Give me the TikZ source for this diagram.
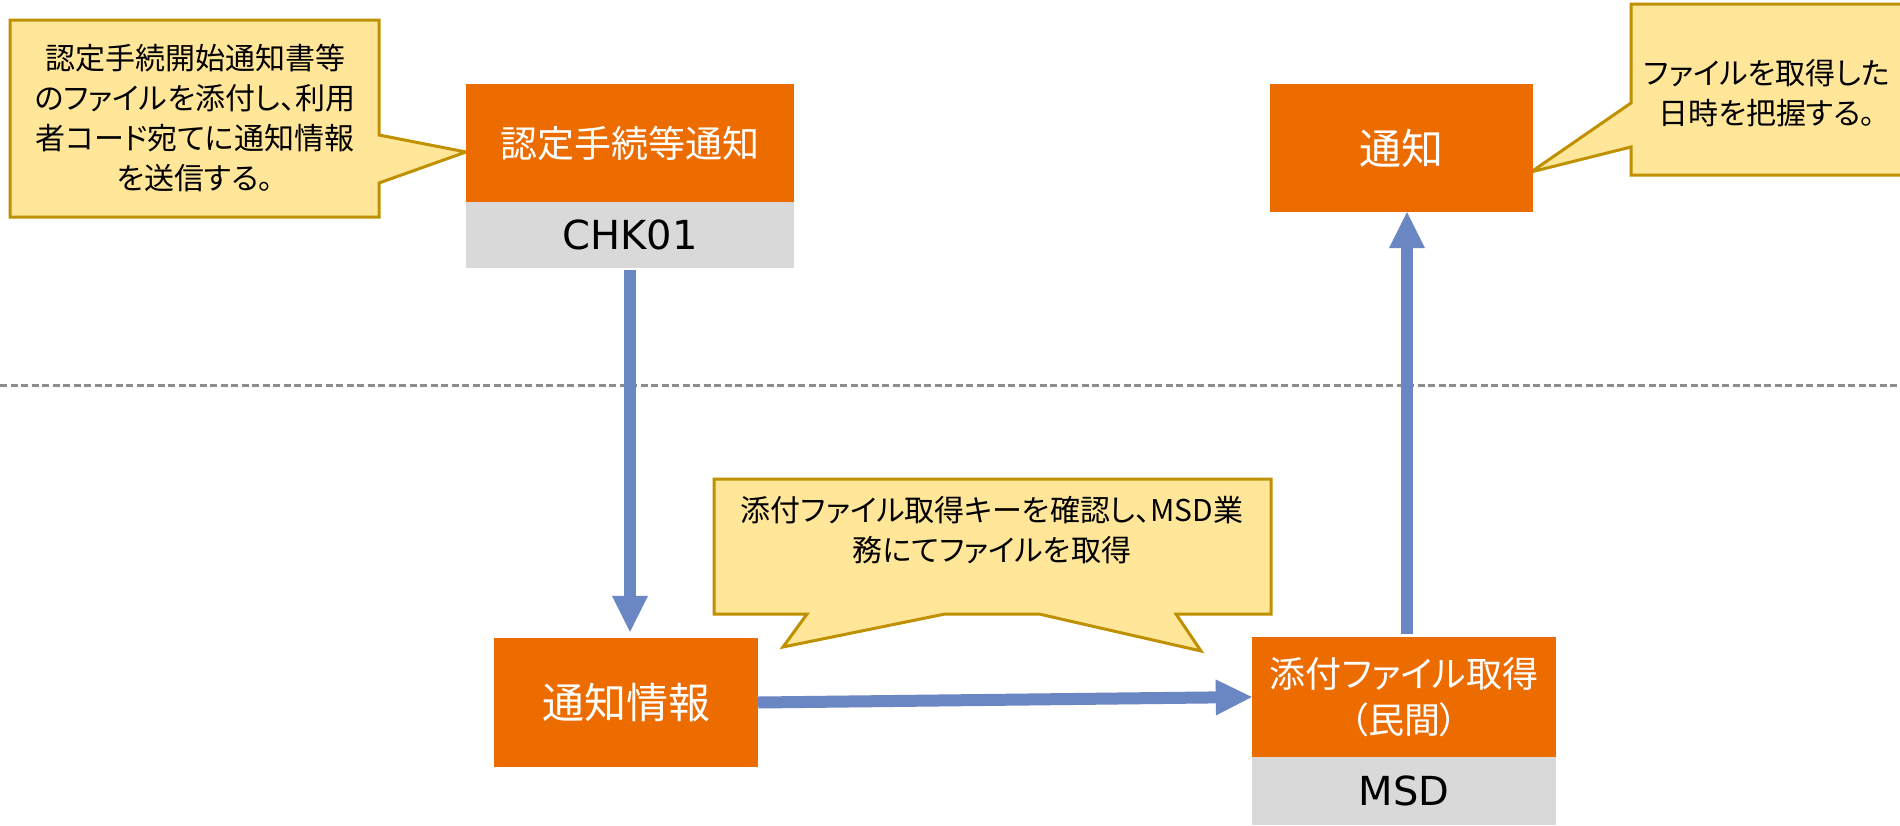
\documentclass[tikz,border=0pt]{standalone}
\usepackage{fontspec}
\newfontfamily\jp[RawFeature=+palt]{Noto Sans CJK JP}
\newfontfamily\lat{DejaVu Sans}
\usetikzlibrary{arrows.meta}
\definecolor{orng}{HTML}{EC6C00}
\definecolor{gry}{HTML}{D9D9D9}
\definecolor{yel}{HTML}{FFE699}
\definecolor{gold}{HTML}{BF9000}
\definecolor{arrblue}{HTML}{6A87C3}
\definecolor{dashgray}{HTML}{8C8C8C}
\begin{document}
\begin{tikzpicture}[x=1pt,y=-1pt,
  obox/.style={fill=orng, draw=none, inner sep=0pt, text=white, align=center, font=\jp\fontsize{37}{46}\selectfont},
  bigobox/.style={obox, font=\jp\fontsize{42}{48}\selectfont},
  gbox/.style={fill=gry, draw=none, inner sep=0pt, text=black, font=\lat\fontsize{40}{48}\selectfont},
  callout/.style={fill=yel, draw=gold, line width=3pt, line join=miter},
  ctext/.style={font=\jp\fontsize{30}{40}\selectfont, align=center, inner sep=0pt, text=black},
  flow/.style={draw=arrblue, line width=12pt, -{Triangle[width=36pt,length=36pt,line width=0pt]}},
  divider/.style={draw=dashgray, line width=3pt, dash pattern=on 7pt off 3.5pt},
]
\useasboundingbox (0,0) rectangle (1900,825);
\fill[white] (0,0) rectangle (1900,825);

% divider
\coordinate (dl) at (0,385);
\coordinate (dr) at (1900,385);
\draw[divider] (dl) -- (dr);

% callouts
\path[callout] (10,20) -- (379,20) -- (379,135) -- (466,152) -- (379,183) -- (379,217) -- (10,217) -- cycle;
\path[callout] (1631,4) -- (1912,4) -- (1912,175) -- (1631,175) -- (1631,147) -- (1531,172) -- (1631,103) -- cycle;
\path[callout] (714,479) -- (1271,479) -- (1271,614) -- (1176,614) -- (1201,651) -- (1039,614) -- (945,614) -- (783,647) -- (807,614) -- (714,614) -- cycle;

\node[ctext] (t1) at (195,118) {認定手続開始通知書等\\のファイルを添付し、利用\\者コード宛てに通知情報\\を送信する。};
\node[ctext] (t2) at (1767,93) {ファイルを取得した\\日時を把握する。};
\node[ctext] (t3) at (992,530) {添付ファイル取得キーを確認し、MSD業\\務にてファイルを取得};

% boxes
\node[obox, minimum width=328pt, minimum height=118pt] (nintei) at (630,143) {認定手続等通知};
\node[gbox, minimum width=328pt, minimum height=66pt] (chk) at (630,235) {CHK01};
\node[bigobox, minimum width=263pt, minimum height=128pt] (tsuchi) at (1401.5,148) {通知};
\node[bigobox, minimum width=264pt, minimum height=129pt] (info) at (626,702.5) {通知情報};
\node[obox, font=\jp\fontsize{36}{46}\selectfont, minimum width=304pt, minimum height=120pt] (msdo) at (1404,697) {添付ファイル取得\\（民間）};
\node[gbox, minimum width=304pt, minimum height=68pt] (msdg) at (1404,791) {MSD};

% arrows
\draw[flow] ([yshift=-2pt]chk.south) -- ([yshift=6pt]chk.south |- info.north);
\draw[flow] (info.east) -- (msdo.west);
\draw[flow] ([xshift=3pt,yshift=3pt]msdo.north) -- ([xshift=3pt]msdo.north |- tsuchi.south);
\end{tikzpicture}
\end{document}
